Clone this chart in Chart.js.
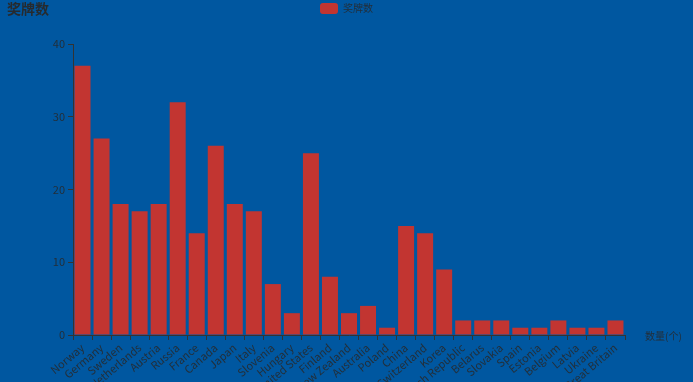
<!DOCTYPE html>
<html>
<head>
<meta charset="utf-8">
<script src="https://cdn.jsdelivr.net/npm/chart.js@4.4.0/dist/chart.umd.min.js"></script>
<style>
    html, body {
        margin: 0;
        padding: 0;
        background: #0057a0;
    }
    #wrap {
        width: 693px;
        height: 382px;
        position: relative;
    }
</style>
</head>
<body>
<div id="wrap">
    <canvas id="myChart_huychuong" width="693" height="382"></canvas>
</div>
<script>
    // du lieu doc tu hinh
    const countries = [
        'Norway', 'Germany', 'Sweden', 'Netherlands', 'Austria', 'Russia',
        'France', 'Canada', 'Japan', 'Italy', 'Slovenia', 'Hungary',
        'United States', 'Finland', 'New Zealand', 'Australia', 'Poland',
        'China', 'Switzerland', 'Korea', 'Czech Republic', 'Belarus',
        'Slovakia', 'Spain', 'Estonia', 'Belgium', 'Latvia', 'Ukraine',
        'Great Britain'
    ];
    const medals = [
        37, 27, 18, 17, 18, 32,
        14, 26, 18, 17, 7, 3,
        25, 8, 3, 4, 1,
        15, 14, 9, 2, 2,
        2, 1, 1, 2, 1, 1,
        2
    ];
    const yTicks = [0, 10, 20, 30, 40];

    const fontFamily = "'Noto Sans CJK SC', 'Open Sans', sans-serif";
    const textColor = 'rgba(40, 40, 40, 0.85)';

    // ve tieu de + ten truc x, them khoang trong duoi legend
    const extraText = {
        id: 'extraText',
        afterInit: function(chart) {
            const legend = chart.legend;
            if (legend) {
                const origFit = legend.fit;
                legend.fit = function() {
                    origFit.call(this);
                    this.height += 20;
                };
            }
        },
        afterDraw: function(chart) {
            const ctx = chart.ctx;
            ctx.save();
            ctx.fillStyle = 'rgba(40, 40, 40, 0.95)';
            ctx.font = 'bold 14px ' + fontFamily;
            ctx.textBaseline = 'middle';
            ctx.textAlign = 'left';
            ctx.fillText('奖牌数', 7, 9);

            ctx.fillStyle = textColor;
            ctx.font = '10px ' + fontFamily;
            ctx.fillText('数量(个)', 645, 336);
            ctx.restore();
        }
    };

    const data = {
        labels: countries,
        datasets: [{
            label: '奖牌数',
            backgroundColor: '#c23531',
            borderColor: '#c23531',
            borderWidth: 0,
            categoryPercentage: 1,
            barPercentage: 0.84,
            data: medals,
        }]
    };

    const config = {
        type: 'bar',
        data: data,
        plugins: [extraText],
        options: {
            responsive: false,
            animation: false,
            layout: {
                padding: { top: 0, right: 0, bottom: 0, left: 0 }
            },
            plugins: {
                legend: {
                    display: true,
                    position: 'top',
                    labels: {
                        boxWidth: 18,
                        boxHeight: 11,
                        useBorderRadius: true,
                        borderRadius: 3,
                        color: textColor,
                        padding: 3,
                        font: { family: fontFamily, size: 10 }
                    }
                },
                tooltip: { enabled: false }
            },
            scales: {
                x: {
                    offset: true,
                    afterFit: function(scale) {
                        scale.height = 47;
                    },
                    grid: {
                        display: true,
                        drawOnChartArea: false,
                        drawTicks: true,
                        tickLength: 5,
                        color: '#333'
                    },
                    border: { display: true, color: '#333' },
                    ticks: {
                        autoSkip: false,
                        minRotation: 40,
                        maxRotation: 40,
                        padding: 1,
                        color: textColor,
                        font: { family: fontFamily, size: 11 }
                    }
                },
                y: {
                    min: 0,
                    max: 40,
                    afterFit: function(scale) {
                        scale.width = 73;
                    },
                    afterBuildTicks: function(scale) {
                        scale.ticks = yTicks.map(function(v) { return { value: v }; });
                    },
                    grid: {
                        display: true,
                        drawOnChartArea: false,
                        drawTicks: true,
                        tickLength: 5,
                        color: '#333'
                    },
                    border: { display: true, color: '#333' },
                    ticks: {
                        padding: 3,
                        color: textColor,
                        font: { family: fontFamily, size: 11 }
                    }
                },
                // truc phu de chua cho ten truc x ben phai
                yRight: {
                    position: 'right',
                    min: 0,
                    max: 40,
                    afterFit: function(scale) {
                        scale.width = 68;
                    },
                    grid: { display: false },
                    border: { display: false },
                    ticks: { display: false }
                }
            }
        }
    };

    const myChart = new Chart(
        document.getElementById('myChart_huychuong'),
        config
    );
</script>
</body>
</html>
